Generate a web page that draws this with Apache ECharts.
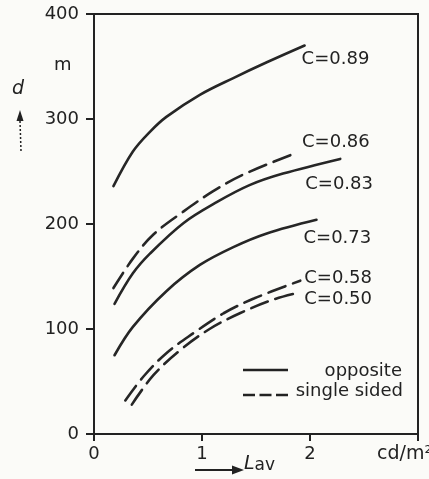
<!DOCTYPE html>
<html>
<head>
<meta charset="utf-8">
<script src="https://cdn.jsdelivr.net/npm/echarts@6/dist/echarts.min.js"></script>
<style>
html,body{margin:0;padding:0;background:#fbfbf8;}
#c{width:429px;height:479px;}
</style>
</head>
<body>
<div id="c"></div>
<script>
// Data: [L_av (cd/m2), d (m)]
const c089 = [[0.18,236],[0.36,269],[0.52,288],[0.67,302],[0.98,323],[1.29,339],[1.60,354],[1.95,370]];
const c086 = [[0.18,139],[0.36,167],[0.55,190],[0.83,212],[1.10,231],[1.38,247],[1.88,268]];
const c083 = [[0.19,124],[0.36,153],[0.52,172],[0.83,201],[1.14,221],[1.44,237],[1.75,248],[2.28,262]];
const c073 = [[0.19,75],[0.36,102],[0.67,136],[0.98,161],[1.29,178],[1.60,191],[2.06,204]];
const c058 = [[0.29,32],[0.46,55],[0.67,77],[0.92,96],[1.20,115],[1.48,129],[1.91,146]];
const c050 = [[0.35,28],[0.55,56],[0.80,80],[1.07,100],[1.35,115],[1.66,128],[1.91,135]];
const curveNames = ['C=0.89','C=0.86','C=0.83','C=0.73','C=0.58','C=0.50'];
const curveTypes = ['opposite','single sided','opposite','opposite','single sided','single sided'];
const xTicks = ['0','1','2',''];
const yTicks = ['0','100','200','300','400'];

const FONT = 'DejaVu Sans';
const INK = '#222';
const labelOffsets = [[-3,14],[5,-10],[-35,25],[-13,19],[4,-2],[4,7]];
const curves = [c089,c086,c083,c073,c058,c050];

const chart = echarts.init(document.getElementById('c'));
const series = curves.map((d,i)=>({
  name: curveNames[i],
  type: 'line',
  data: d,
  smooth: 0.35,
  showSymbol: false,
  symbol: 'none',
  lineStyle: {color: '#262626', width: 2.6, type: curveTypes[i]==='opposite' ? 'solid' : [18,8], cap:'round'},
  endLabel: {show: true, formatter: curveNames[i], distance: 0, offset: labelOffsets[i],
             color: INK, fontFamily: FONT, fontSize: 18, align: 'left', verticalAlign: 'middle'},
  emphasis: {disabled: true},
  silent: true
}));

chart.setOption({
  animation: false,
  backgroundColor: '#fbfbf8',
  grid: {left: 94, right: 11, top: 14, bottom: 45, show: true, borderColor: INK, borderWidth: 2,
         containLabel: false, outerBoundsMode: 'none'},
  xAxis: {
    type: 'value', min: 0, max: 3, interval: 1,
    axisLine: {show: true, lineStyle: {color: INK, width: 2}},
    axisTick: {show: true, length: 7, lineStyle: {color: INK, width: 2}},
    splitLine: {show: false},
    axisLabel: {color: INK, fontFamily: FONT, fontSize: 18, margin: 11,
                formatter: v => xTicks[Math.round(v)]},
    name: 'cd/m²', nameLocation: 'end', nameGap: 14,
    nameTextStyle: {color: INK, fontFamily: FONT, fontSize: 19, align: 'right', verticalAlign: 'top', padding: [11,0,0,0]}
  },
  yAxis: {
    type: 'value', min: 0, max: 400, interval: 100,
    axisLine: {show: true, lineStyle: {color: INK, width: 2}},
    axisTick: {show: true, length: 8, lineStyle: {color: INK, width: 2}},
    splitLine: {show: false},
    axisLabel: {color: INK, fontFamily: FONT, fontSize: 18, margin: 15,
                formatter: v => yTicks[Math.round(v/100)]}
  },
  graphic: [
    {type:'text', left: 54, top: 56, style:{text:'m', font:'18px "DejaVu Sans"', fill: INK}},
    {type:'text', left: 12, top: 80, style:{text:'d', font:'italic 19px "DejaVu Sans"', fill: INK}},
    {type:'polygon', shape:{points:[[20,110],[16.5,121],[23.5,121]]}, style:{fill: INK}},
    {type:'line', shape:{x1:20,y1:121,x2:21,y2:151}, style:{stroke: INK, lineWidth:1.5, lineDash:[2,2]}},
    {type:'line', shape:{x1:195,y1:470,x2:235,y2:470}, style:{stroke: INK, lineWidth:2}},
    {type:'polygon', shape:{points:[[244,470],[232,465.5],[232,474.5]]}, style:{fill: INK}},
    {type:'text', left: 244, top: 455, style:{text:'{L|L}{s|av}', fill: INK,
      rich:{L:{font:'italic 19px "DejaVu Sans"', fill: INK, verticalAlign:'bottom'},
            s:{font:'17px "DejaVu Sans"', fill: INK, padding:[10,0,0,0], verticalAlign:'bottom'}}}},
    {type:'line', shape:{x1:243,y1:370,x2:288,y2:370}, style:{stroke: INK, lineWidth:2.6}},
    {type:'line', shape:{x1:243,y1:395,x2:288,y2:395}, style:{stroke: INK, lineWidth:2.6, lineDash:[12,4.5]}},
    {type:'text', right: 27, top: 362, style:{text:'opposite', font:'18px "DejaVu Sans"', fill: INK, textAlign:'right'}},
    {type:'text', right: 26, top: 382, style:{text:'single sided', font:'18px "DejaVu Sans"', fill: INK, textAlign:'right'}}
  ],
  series: series
});
</script>
</body>
</html>
